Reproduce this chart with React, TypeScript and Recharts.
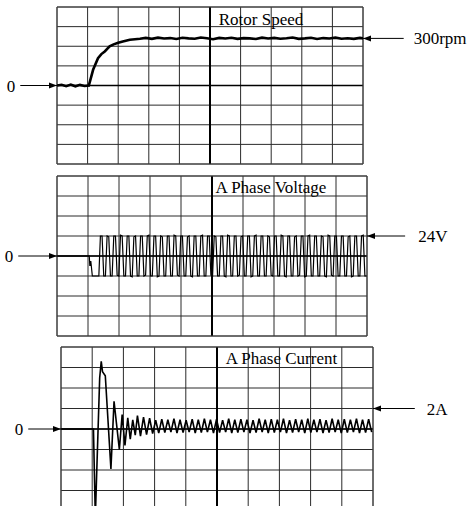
import React from 'react';
import { LineChart, Line, XAxis, YAxis, CartesianGrid, ReferenceLine, ReferenceDot } from 'recharts';

const FONT = '"Liberation Serif", "Times New Roman", serif';

// horizontal screen divisions (10 per sweep)
const DIVS = [0, 1, 2, 3, 4, 5, 6, 7, 8, 9, 10];
const ROW_IDX = [-4, -3, -2, -1, 0, 1, 2, 3, 4];

// ---- Rotor speed (rpm), 125 rpm / div ----
const SPEED_PER_DIV = 125;
const speedT = [0, 0.15, 0.3, 0.45, 0.6, 0.75, 0.9, 1.04, 1.18, 1.34, 1.45, 1.56, 1.72, 1.85, 2.0, 2.15, 2.38, 2.55, 2.71,
  2.9, 3.1, 3.3, 3.5, 3.7, 3.9, 4.1, 4.3, 4.5, 4.7, 4.9, 5.1, 5.3, 5.5, 5.7, 5.9, 6.1, 6.3, 6.5, 6.7, 6.9,
  7.1, 7.3, 7.5, 7.7, 7.9, 8.1, 8.3, 8.5, 8.7, 8.9, 9.1, 9.3, 9.5, 9.7, 9.9, 10];
const speedRpm = [0, 5, -4, 6, -5, 4, -3, 0, 100, 174, 200, 217, 249, 262, 272, 280, 291, 295, 298,
  303, 297, 305, 299, 302, 296, 304, 300, 298, 306, 301, 295, 303, 299, 304, 297, 302, 300, 296, 305, 299,
  303, 298, 301, 306, 297, 300, 304, 296, 302, 299, 305, 298, 301, 297, 303, 300];

// ---- A phase voltage (V), 24 V / div ----
const VOLT_PER_DIV = 24;
const voltStartT = [0, 1.04, 1.06, 1.09, 1.14, 1.35];
const voltStartV = [0, 0, -12, -6, -24, -24];
const VOLT_T0 = 1.40;
const VOLT_DT = 0.054;
const voltPwmV = [
  24, 24, -24, -24, 24, 23, -24, -24, 24, 24, -23, -24, 25, 24, -24, -24, 24, 24, -24, -25,
  23, 24, -24, -24, 24, 24, -24, -23, 24, 25, -24, -24, 24, 24, -25, -24, 24, 23, -24, -24,
  24, 24, -24, -24, 25, 24, -23, -24, 24, 24, -24, -24, 23, 24, -24, -25, 24, 24, -24, -24,
  24, 25, -24, -24, 24, 24, -23, -24, 24, 23, -24, -24, 24, 24, -24, -25, 25, 24, -24, -24,
  24, 24, -24, -23, 23, 24, -24, -24, 24, 24, -25, -24, 24, 25, -24, -24, 24, 24, -24, -24,
  24, 23, -23, -24, 24, 24, -24, -24, 25, 24, -24, -25, 24, 24, -24, -24, 23, 24, -24, -23,
  24, 24, -25, -24, 24, 25, -24, -24, 24, 24, -24, -24, 24, 23, -24, -25, 25, 24, -23, -24,
  24, 24, -24, -24, 24, 24, -24, -24, 23, 24, -25, -24, 24, 24, -24, -24, 24, 25, -24, -24,
];

// ---- A phase current (A), 2 A / div ----
const CUR_PER_DIV = 2;
const curStartT = [0, 1.04, 1.10, 1.24, 1.29, 1.33, 1.42, 1.60, 1.70, 1.87, 1.96, 2.05, 2.14, 2.22, 2.30, 2.38];
const curStartA = [0, 0, -8.6, 5.0, 6.6, 5.6, 5.2, -3.9, 2.7, -2.0, 1.4, -1.6, 1.1, -1.0, 0.9, -0.6];
const CUR_T0 = 2.45;
const CUR_DT = 0.0975;
const curRippleA = [
  1.3, -0.7, 1.15, -0.55, 1.05, -0.45, 0.85, -0.4, 0.95, -0.35, 0.9, -0.3, 1.0, -0.4, 0.9, -0.35, 0.85, -0.3, 0.95, -0.4,
  0.9, -0.35, 1.0, -0.3, 0.9, -0.4, 0.95, -0.35, 0.85, -0.3, 1.0, -0.4, 0.9, -0.35, 0.95, -0.3, 0.9, -0.4, 0.85, -0.35,
  1.0, -0.3, 0.9, -0.4, 0.95, -0.35, 0.9, -0.3, 1.0, -0.4, 0.85, -0.35, 0.95, -0.3, 0.9, -0.4, 1.0, -0.35, 0.9, -0.3,
  0.95, -0.4, 0.85, -0.35, 1.0, -0.3, 0.9, -0.4, 0.95, -0.35, 0.9, -0.3, 1.0, -0.4, 0.9, -0.35, 0.95, -0.3,
];

// ---- tables built from the arrays ----
const speedData = speedT.map((t, i) => ({ t, v: speedRpm[i] }));
const voltData = [
  ...voltStartT.map((t, i) => ({ t, v: voltStartV[i] })),
  ...voltPwmV.map((v, i) => ({ t: VOLT_T0 + i * VOLT_DT, v })),
];
const curData = [
  ...curStartT.map((t, i) => ({ t, v: curStartA[i] })),
  ...curRippleA.map((v, i) => ({ t: CUR_T0 + i * CUR_DT, v })),
];

const arrowHead = (dir: number) => (p: any) => {
  const { cx, cy } = p;
  return (
    <polygon
      points={`${cx},${cy} ${cx - 8 * dir},${cy - 3} ${cx - 8 * dir},${cy + 3}`}
      fill="#000"
    />
  );
};

const labelStyle = { fill: '#000', fontSize: 17, fontFamily: FONT };

function scopeChildren(perDiv: number, leftStart: number, rightVal: number, rightLen: number, rightLabel: string, rightOffset: number) {
  return [
    <CartesianGrid key="g" stroke="#2a2a2a" strokeWidth={1} />,
    <ReferenceLine key="cx" x={5} stroke="#000" strokeWidth={2} />,
    <ReferenceLine key="cy" y={0} stroke="#000" strokeWidth={1.5} />,
    <ReferenceLine key="bl" x={0} stroke="#444" strokeWidth={1} />,
    <ReferenceLine key="br" x={10} stroke="#444" strokeWidth={1} />,
    <ReferenceLine key="bt" y={4 * perDiv} stroke="#444" strokeWidth={1} />,
    <ReferenceLine key="bb" y={-4 * perDiv} stroke="#444" strokeWidth={1} />,
    <ReferenceLine
      key="la"
      segment={[{ x: leftStart, y: 0 }, { x: 0, y: 0 }]}
      ifOverflow="visible"
      stroke="#000"
      strokeWidth={1}
      label={{ value: '0', position: 'left', offset: 5, ...labelStyle }}
    />,
    <ReferenceDot key="lh" x={0} y={0} ifOverflow="visible" shape={arrowHead(1)} />,
    <ReferenceLine
      key="ra"
      segment={[{ x: 10, y: rightVal }, { x: 10 + rightLen, y: rightVal }]}
      ifOverflow="visible"
      stroke="#000"
      strokeWidth={1}
      label={{ value: rightLabel, position: 'right', offset: rightOffset, ...labelStyle }}
    />,
    <ReferenceDot key="rh" x={10} y={rightVal} ifOverflow="visible" shape={arrowHead(-1)} />,
  ];
}

const W = 474;

export default function App() {
  const speedTicks = ROW_IDX.map((k) => k * SPEED_PER_DIV);
  const voltTicks = ROW_IDX.map((k) => k * VOLT_PER_DIV);
  const curTicks = ROW_IDX.map((k) => k * CUR_PER_DIV);
  return (
    <div style={{ position: 'absolute', left: 0, top: 0, width: W, height: 506, background: '#fff', overflow: 'hidden' }}>
      <div style={{ position: 'absolute', left: 0, top: 0 }}>
        <LineChart width={W} height={175} data={speedData} margin={{ top: 7, left: 57, right: 111, bottom: 11 }}>
          <XAxis type="number" dataKey="t" domain={[0, 10]} ticks={DIVS} interval={0} hide allowDataOverflow />
          <YAxis type="number" domain={[-4 * SPEED_PER_DIV, 4 * SPEED_PER_DIV]} ticks={speedTicks} interval={0} hide allowDataOverflow />
          {scopeChildren(SPEED_PER_DIV, -1.2, 300, 1.33, '300rpm', 10)}
          <Line dataKey="v" stroke="#000" strokeWidth={2.6} dot={false} isAnimationActive={false} type="linear" />
        </LineChart>
      </div>
      <div style={{ position: 'absolute', left: 0, top: 170 }}>
        <LineChart width={W} height={175} data={voltData} margin={{ top: 6, left: 57, right: 107, bottom: 9 }}>
          <XAxis type="number" dataKey="t" domain={[0, 10]} ticks={DIVS} interval={0} hide allowDataOverflow />
          <YAxis type="number" domain={[-4 * VOLT_PER_DIV, 4 * VOLT_PER_DIV]} ticks={voltTicks} interval={0} hide allowDataOverflow />
          {scopeChildren(VOLT_PER_DIV, -1.25, 24, 1.23, '24V', 13)}
          <Line dataKey="v" stroke="#000" strokeWidth={1.2} dot={false} isAnimationActive={false} type="linear" />
        </LineChart>
      </div>
      <div style={{ position: 'absolute', left: 0, top: 340 }}>
        <LineChart width={W} height={175} data={curData} margin={{ top: 7, left: 61, right: 101, bottom: 4 }}>
          <XAxis type="number" dataKey="t" domain={[0, 10]} ticks={DIVS} interval={0} hide allowDataOverflow />
          <YAxis type="number" domain={[-4 * CUR_PER_DIV, 4 * CUR_PER_DIV]} ticks={curTicks} interval={0} hide allowDataOverflow />
          {scopeChildren(CUR_PER_DIV, -1.05, 2, 1.34, '2A', 12)}
          <Line dataKey="v" stroke="#000" strokeWidth={1.6} dot={false} isAnimationActive={false} type="linear" />
        </LineChart>
      </div>
      <svg width={W} height={506} style={{ position: 'absolute', left: 0, top: 0, pointerEvents: 'none' }}>
        <text x={261} y={25} textAnchor="middle" fontFamily={FONT} fontSize={17} fill="#000">Rotor Speed</text>
        <text x={271} y={193} textAnchor="middle" fontFamily={FONT} fontSize={17} fill="#000">A Phase Voltage</text>
        <text x={281.5} y={364} textAnchor="middle" fontFamily={FONT} fontSize={17} fill="#000">A Phase Current</text>
      </svg>
    </div>
  );
}
